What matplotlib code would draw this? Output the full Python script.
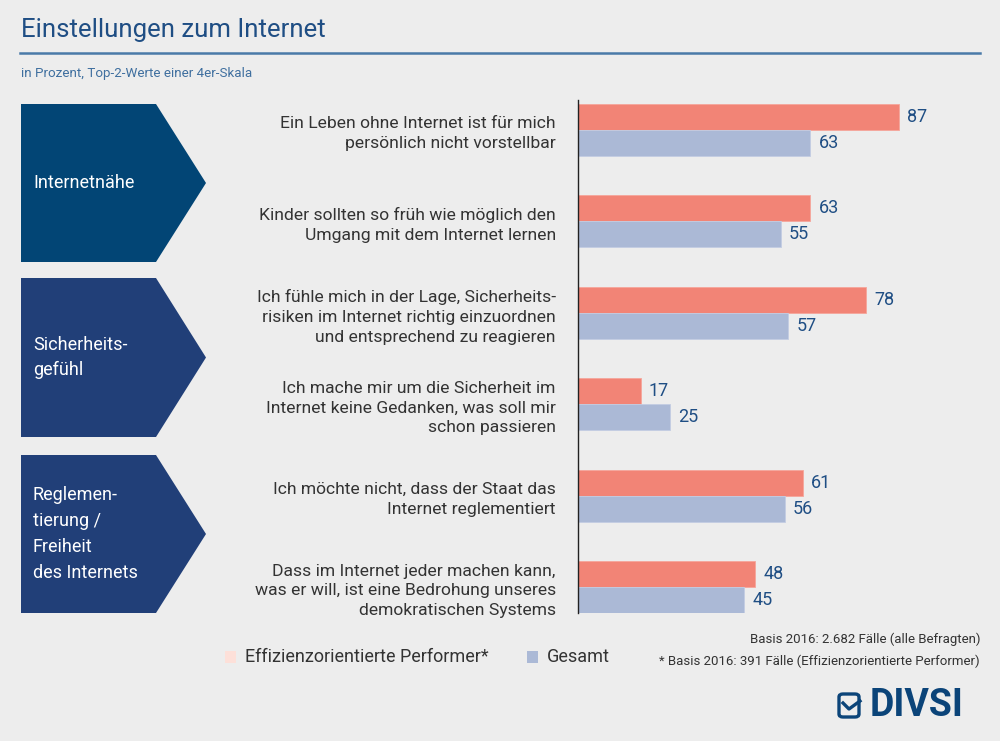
import matplotlib.pyplot as plt
from matplotlib.patches import Polygon, Rectangle, FancyBboxPatch

plt.rcParams['font.family'] = ['Roboto', 'DejaVu Sans']

statements = [
    'Ein Leben ohne Internet ist für mich\npersönlich nicht vorstellbar',
    'Kinder sollten so früh wie möglich den\nUmgang mit dem Internet lernen',
    'Ich fühle mich in der Lage, Sicherheits-\nrisiken im Internet richtig einzuordnen\nund entsprechend zu reagieren',
    'Ich mache mir um die Sicherheit im\nInternet keine Gedanken, was soll mir\nschon passieren',
    'Ich möchte nicht, dass der Staat das\nInternet reglementiert',
    'Dass im Internet jeder machen kann,\nwas er will, ist eine Bedrohung unseres\ndemokratischen Systems',
]
effizienz = [87, 63, 78, 17, 61, 48]
gesamt = [63, 55, 57, 25, 56, 45]
groups = ['Internetnähe', 'Sicherheits-\ngefühl', 'Reglemen-\ntierung /\nFreiheit\ndes Internets']

RED = '#f28476'
BLUE = '#abb9d6'
DARK = '#1f4e84'
BG = '#ededed'
TXT = '#333333'

W, H = 1000, 741
fig = plt.figure(figsize=(10, 7.41), dpi=100, facecolor=BG)


def fx(px):
    return px / W


def fy(py):
    return 1 - py / H


# title and subtitle
fig.text(fx(21), fy(30), 'Einstellungen zum Internet', fontsize=18.5, color=DARK,
         ha='left', va='center')
fig.add_artist(plt.Line2D([fx(20), fx(980)], [fy(53), fy(53)], color='#4a7aa8', lw=1.8))
fig.text(fx(21), fy(73), 'in Prozent, Top-2-Werte einer 4er-Skala', fontsize=9.6,
         color='#3f6f9f', ha='left', va='center')

# group arrows
arrows = [(104, 262, '#024575'), (278, 437, '#213f78'), (455, 613, '#213f78')]
for (top, bot, col), name in zip(arrows, groups):
    mid = (top + bot) / 2
    pts = [(fx(21), fy(top)), (fx(156), fy(top)), (fx(206), fy(mid)),
           (fx(156), fy(bot)), (fx(21), fy(bot))]
    fig.add_artist(Polygon(pts, closed=True, facecolor=col, edgecolor='none',
                           transform=fig.transFigure))
    fig.text(fx(33), fy(mid), name, color='white', fontsize=13, ha='left',
             va='center', linespacing=1.55)

# bars
ax = fig.add_axes([fx(578), fy(613), 369 / W, 513 / H])
ax.set_facecolor('none')
pos = list(range(len(statements)))
bh = 0.284
ax.barh([p - bh / 2 for p in pos], effizienz, height=bh, color=RED, edgecolor='#f5a69b', lw=0.6)
ax.barh([p + bh / 2 for p in pos], gesamt, height=bh, color=BLUE, edgecolor='#c3cde3', lw=0.6)
for p, a, b in zip(pos, effizienz, gesamt):
    ax.text(a + 2.2, p - bh / 2, str(a), color=DARK, fontsize=13, va='center', ha='left')
    ax.text(b + 2.2, p + bh / 2, str(b), color=DARK, fontsize=13, va='center', ha='left')

ax.set_xlim(0, 100)
ax.set_ylim(5.284, -0.328)
ax.set_yticks(pos)
ax.set_yticklabels(statements, fontsize=12.6, color=TXT, linespacing=1.4)
ax.tick_params(axis='y', length=0, pad=16)
ax.set_xticks([])
for s in ['top', 'right', 'bottom']:
    ax.spines[s].set_visible(False)
ax.spines['left'].set_color('#222222')
ax.spines['left'].set_linewidth(1)

# legend
fig.add_artist(Rectangle((fx(225), fy(663)), 11 / W, 12 / H, facecolor='#fde0d9',
                         edgecolor='none', transform=fig.transFigure))
fig.text(fx(245), fy(657), 'Effizienzorientierte Performer*', fontsize=13, color=TXT,
         ha='left', va='center')
fig.add_artist(Rectangle((fx(527), fy(663)), 11 / W, 12 / H, facecolor=BLUE,
                         edgecolor='none', transform=fig.transFigure))
fig.text(fx(547), fy(657), 'Gesamt', fontsize=13, color=TXT, ha='left', va='center')

# footnotes
fig.text(fx(980), fy(639), 'Basis 2016: 2.682 Fälle (alle Befragten)', fontsize=9.5,
         color=TXT, ha='right', va='center')
fig.text(fx(980), fy(661), '* Basis 2016: 391 Fälle (Effizienzorientierte Performer)',
         fontsize=9.5, color=TXT, ha='right', va='center')

# logo
LOGO = '#0b4479'
fig.add_artist(FancyBboxPatch((fx(839), fy(717)), 20 / W, 23 / H,
                              boxstyle='round,pad=0,rounding_size=0.004',
                              facecolor='none', edgecolor=LOGO, lw=2.4,
                              transform=fig.transFigure))
fig.add_artist(plt.Line2D([fx(843), fx(849), fx(860)], [fy(703), fy(709), fy(701)],
                          color=LOGO, lw=2.4))
fig.text(fx(870), fy(706), 'DIVSI', fontsize=27, fontweight='bold', color=LOGO,
         ha='left', va='center')

fig.savefig('out.png', dpi=100, facecolor=BG)
